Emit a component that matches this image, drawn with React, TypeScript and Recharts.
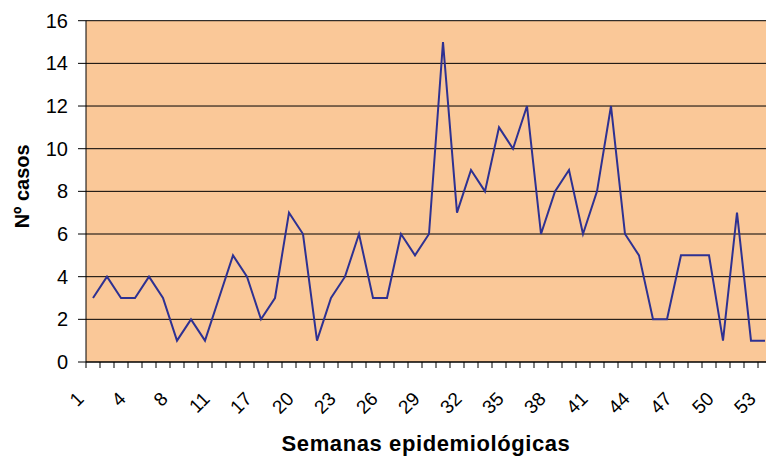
import { CartesianGrid, Label, Line, LineChart, XAxis, YAxis } from 'recharts';

// semanas con datos (faltan algunas al principio del año)
const semanas = [
  '1', '2', '3', '4', '6', '7', '8', '9', '10', '11', '13', '15', '17',
  '18', '19', '20', '21', '22', '23', '24', '25', '26', '27', '28', '29',
  '30', '31', '32', '33', '34', '35', '36', '37', '38', '39', '40', '41',
  '42', '43', '44', '45', '46', '47', '48', '49', '50', '51', '52', '53'
];

const casos = [
  3, 4, 3, 3, 4, 3, 1, 2, 1, 3, 5, 4, 2, 3, 7, 6, 1, 3, 4, 6, 3, 3, 6, 5, 6,
  15, 7, 9, 8, 11, 10, 12, 6, 8, 9, 6, 8, 12, 6, 5, 2, 2, 5, 5, 5, 1, 7, 1, 1
];

const yTicks = [0, 2, 4, 6, 8, 10, 12, 14, 16];

const data = semanas.map((semana, i) => ({ semana, casos: casos[i] }));

const CHART_W = 772;
const CHART_H = 457;
const PLOT_LEFT = 86;
const HALF_BAND = (CHART_W - PLOT_LEFT) / semanas.length / 2;
const FONT = '"Liberation Sans", Arial, sans-serif';

interface TickProps {
  x: number;
  y: number;
  index: number;
  payload: { value: string };
}

function WeekTick({ x, y, index, payload }: TickProps) {
  const last = index === semanas.length - 1;
  const lx = x - 8;
  const ly = y + 38;
  return (
    <g>
      <line x1={x - HALF_BAND} y1={y} x2={x - HALF_BAND} y2={y + 6} stroke="#000" />
      {last && <line x1={x + HALF_BAND} y1={y} x2={x + HALF_BAND} y2={y + 6} stroke="#000" />}
      {index % 3 === 0 && (
        <text
          x={lx}
          y={ly}
          textAnchor="end"
          transform={`rotate(-45, ${lx}, ${ly})`}
          fontSize={19}
          fontFamily={FONT}
          fill="#000"
        >
          {payload.value}
        </text>
      )}
    </g>
  );
}

export default function App() {
  return (
    <div style={{ position: 'absolute', left: 0, top: 0, width: 766, height: 457, overflow: 'hidden', background: '#fff' }}>
      <LineChart
        width={CHART_W}
        height={CHART_H}
        data={data}
        margin={{ top: 20.7, right: 0, bottom: 0, left: 0 }}
      >
        <CartesianGrid vertical={false} stroke="#000" fill="#FAC898" fillOpacity={1} />
        <XAxis
          dataKey="semana"
          interval={0}
          height={95}
          tickSize={0}
          tickMargin={0}
          tickLine={false}
          stroke="#000"
          padding={{ left: HALF_BAND, right: HALF_BAND }}
          tick={(props: TickProps) => <WeekTick {...props} />}
        >
          <Label
            content={({ viewBox }: any) => (
              <text
                x={viewBox.x + viewBox.width / 2 - 3}
                y={viewBox.y + 89}
                textAnchor="middle"
                fontSize={22}
                fontWeight="bold"
                fontFamily={FONT}
                letterSpacing={0.6}
                fill="#000"
              >
                Semanas epidemiológicas
              </text>
            )}
          />
        </XAxis>
        <YAxis
          domain={[0, 16]}
          ticks={yTicks}
          width={PLOT_LEFT}
          tickSize={8}
          tickMargin={10}
          stroke="#000"
          tick={{ fill: '#000', fontSize: 20, fontFamily: FONT }}
        >
          <Label
            content={({ viewBox }: any) => {
              const cx = 22;
              const cy = viewBox.y + viewBox.height / 2 - 5;
              return (
                <text
                  x={cx}
                  y={cy}
                  textAnchor="middle"
                  dominantBaseline="central"
                  transform={`rotate(-90, ${cx}, ${cy})`}
                  fontSize={20}
                  fontWeight="bold"
                  fontFamily={FONT}
                  fill="#000"
                >
                  Nº casos
                </text>
              );
            }}
          />
        </YAxis>
        <Line
          type="linear"
          dataKey="casos"
          stroke="#2E3192"
          strokeWidth={2}
          dot={false}
          activeDot={false}
          isAnimationActive={false}
        />
      </LineChart>
    </div>
  );
}
